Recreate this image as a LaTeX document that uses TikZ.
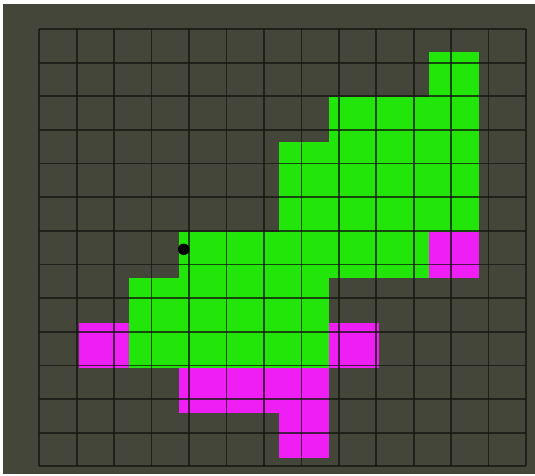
\documentclass[tikz,border=0pt]{standalone}
\usepackage{xcolor}
\usetikzlibrary{positioning}
\definecolor{gridbg}{RGB}{69,70,58}
\definecolor{gridline}{RGB}{20,21,16}
\definecolor{cellgreen}{RGB}{34,230,10}
\definecolor{cellpink}{RGB}{238,30,245}

\begin{document}
\begin{tikzpicture}[x=0.02cm,y=-0.02cm,
      green cell/.style={fill=cellgreen},
      pink cell/.style={fill=cellpink},
      grid rule/.style={draw=gridline,line width=1pt,opacity=0.75},
      dot/.style={circle,fill=black,inner sep=0pt,minimum size=0.23cm}]
    \useasboundingbox (0,0) rectangle (535,476);
    % Background
    \fill[white] (0,0) rectangle (535,476);
    \fill[gridbg] (3,4) rectangle (535,474);
    % Green region
    \foreach \c/\r in {8/1,6/2,7/2,8/2,5/3,6/3,7/3,8/3,5/4,6/4,7/4,8/4,
        3/5,4/5,5/5,6/5,7/5,2/6,3/6,4/6,5/6,2/7,3/7,4/7,5/7}{\path[green cell] (29+50*\c,7+45.1*\r) rectangle ++(50.3,45.4);}
    % Pink cells
    \foreach \c/\r in {8/5,1/7,6/7,3/8,4/8,5/8,5/9}{\path[pink cell] (29+50*\c,7+45.1*\r) rectangle ++(50.3,45.4);}
    % Grid
    \foreach \i in {0,...,13}{
      \draw[grid rule] (39.3+37.44*\i,29) -- (39.3+37.44*\i,466.3);
      \draw[grid rule] (39.3,29+33.64*\i) -- (526,29+33.64*\i);}
    % Marker
    \node[dot] (marker) at (183.7,249.3) {};
  \end{tikzpicture}
\end{document}
